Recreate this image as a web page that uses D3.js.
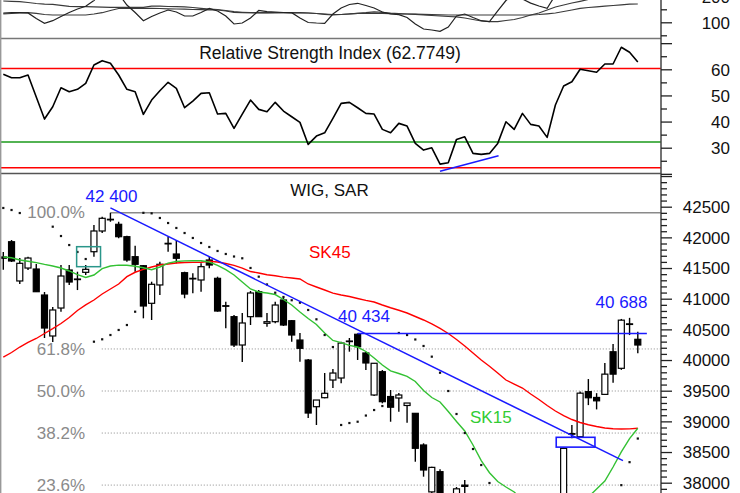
<!DOCTYPE html>
<html><head><meta charset="utf-8">
<script src="https://cdn.jsdelivr.net/npm/d3@7"></script>
<style>body{margin:0;background:#fff}svg{display:block}text{font-family:"Liberation Sans",Arial,sans-serif}</style>
</head><body><svg id="c" width="740" height="493"></svg>
<script>
// ---------- DATA ----------
const opens  = [41680,41929,41289,41500,41484,41060,40392,40848,41468,41321,41430,41766,42104,42295,42213,42011,41685,41538,40925,41224,41903,41729,41424,41332,41305,41631,41332,40886,40707,40245,40707,41114,40599,40625,40979,40641,40326,40000,39239,39386,39674,39707,40310,40420,40115,39430,39810,39405,39381,39259,39131,38615,37850,38180,37600,37650,37940,37500,37100,37050,37100,37250,37500,37380,37600,37420,37380,37150,37600,38790,38750,39485,39390,39440,40135,39865,40590,40338];
const highs  = [41760,41957,41664,41685,41566,41109,40865,41549,41549,41440,41549,42202,42337,42400,42255,42027,41864,41549,41277,41603,42011,41957,41440,41414,41577,41685,41359,40951,40734,40767,41126,41142,40767,40951,41011,40652,40441,40017,39348,39789,39853,40299,40359,40434,40136,39952,39837,39511,39462,39299,39136,38642,38260,38220,37700,37930,38045,37600,37300,37300,37400,37550,37550,37650,37650,37500,37400,37600,38570,38940,39485,39690,39460,39950,40260,40670,40688,40462];
const lows   = [41470,41598,41240,41468,41109,40359,40294,40788,41223,41141,41386,41685,42071,42255,41985,41603,41440,40680,40653,41060,41766,41577,41007,41088,41114,41496,40788,40517,40212,39968,40571,40702,40543,40599,40555,40299,39973,39055,38941,39376,39544,39621,40136,40001,39837,39414,39294,38994,39158,38978,38342,38098,37700,37450,36590,37500,37700,37000,36800,36700,37000,37200,37200,37300,37300,37250,37050,37100,37550,38725,38730,39265,39195,39430,39630,39840,40407,40110];
const closes = [41660,41615,41577,41663,41114,40522,40816,41370,41272,41313,41479,42104,42311,42287,42011,41631,41561,40881,41235,41561,41895,41659,41076,41324,41522,41549,40799,40878,40245,40604,41093,40707,40625,40897,40571,40408,40191,39136,39348,39458,39788,40277,40302,40217,39952,39947,39321,39231,39430,39299,38561,38207,38250,37600,37650,37900,37960,37100,37050,37100,37250,37500,37380,37600,37420,37380,37150,37550,38560,38800,39460,39385,39335,39770,39770,40650,40580,40245];
const sar    = [42479,42446,42397,null,null,null,42174,42022,41875,41762,41647,40299,40338,40408,40490,40571,40788,42400,42392,42316,42234,42153,42071,41990,41908,41843,41778,41729,41688,41659,41501,41359,41232,41098,41028,40975,40935,40816,40664,40408,40212,38941,38973,38994,39095,39185,39250,39316,40441,40408,40335,40229,40055,39793,39495,39120,38810,38549,38288,37995,37780,37720,37700,37690,37680,37670,37660,37650,36590,36700,36850,37050,37250,37450,37680,37960,38335,38720];
const sk15   = [41680,41667,41631,41610,41589,41559,41533,41501,41452,41393,41346,41386,41491,41533,41548,41545,41530,41505,41473,41517,41579,41606,41616,41619,41618,41598,41545,41474,41386,41272,41158,41109,41093,41068,40987,40897,40783,40677,40579,40441,40319,40284,40240,40212,40139,40033,39919,39824,39780,39735,39650,39503,39389,39316,39161,38998,38843,38615,38359,38163,38020,37930,37848,37718,37587,37489,37424,37391,37408,37489,37620,37767,37897,38027,38256,38501,38720,38887];
const sk45   = [40049,40123,40212,40286,40351,40433,40511,40596,40694,40808,40898,40979,41077,41158,41240,41359,41431,41479,41517,41549,41566,41582,41590,41593,41595,41611,41598,41574,41544,41500,41443,41419,41391,41375,41351,41338,41321,41240,41191,41142,41090,41060,41036,41003,40972,40946,40897,40852,40811,40767,40710,40653,40588,40515,40433,40335,40229,40115,40001,39898,39789,39674,39609,39544,39446,39356,39258,39169,39095,39030,38981,38945,38916,38891,38880,38875,38878,38887];
const rsi    = [58.08,56.78,56.78,57.82,49.39,40.96,45.67,52.95,51.42,52.34,54.64,61.65,63.30,62.30,57.82,52.34,51.42,42.76,48.24,51.80,55.02,52.72,45.29,47.85,50.80,51.03,42.87,43.14,37.39,42.87,48.24,44.67,43.75,47.36,44.02,41.84,39.69,31.26,34.44,35.71,41.23,46.97,47.36,45.29,43.14,42.87,37.01,35.71,39.31,38.28,31.65,29.08,29.96,23.72,24.21,33.18,34.18,27.82,27.43,27.82,31.65,39.92,37.01,43.14,38.93,38.28,33.95,46.32,53.60,55.25,60.00,59.43,58.85,62.03,62.03,68.43,66.51,62.7749];
const oscA   = [135.4,136.9,136.9,136.2,114.6,96.2,106.2,122.3,137.7,151.2,161.5,183.8,216.5,231.9,208.8,166.5,137.7,106.2,122.3,135.8,147.3,139.6,124.2,124.2,137.7,153.1,143.5,124.2,93.5,97.3,116.5,145.4,140.8,139.6,137.7,136.9,116.5,99.2,97.3,96.2,131.9,155,168.5,173.1,164.6,155,139.6,131.9,129.2,118.5,93.5,74.2,70.4,65.4,81.9,124.2,131.9,118.5,106.2,102.3,143.5,183.8,208.8,189.6,173.8,162.7,153.8,205,243.5,262.7,281.9,281.9,270.4,270.4,262.7,281.9,281.9,270.4];
const oscB   = [181.9,180.8,179.2,176.2,172.3,169.6,168.8,165.4,161.5,160,160,159.2,158.5,157.7,157.7,157.7,157.7,157.7,161.9,161.9,160.8,160.4,159.6,156.9,153.8,151.2,149.2,145.4,140.8,138.5,136.9,136.9,137.5,137.7,137.3,136.5,136,135.8,133.8,131.9,130,130,131.9,134.6,136.9,140,138.1,135,133.5,131.9,130.4,128.1,126.2,124.2,122.3,120.8,116.5,110.8,105,102.3,102.3,106.9,110.8,118.5,128.1,135.8,147.3,158.8,166.5,174.2,180.8,187.7,193.5,199.2,205,210.8,216.5,220.4];
const oscC   = [131.9,133.8,135.8,136.9,134.6,130,128.1,128.1,128.1,128.1,128.1,131.9,136.9,145.4,153.1,153.8,153.8,153.8,153.8,153.1,151.9,151.2,150.4,149.2,148.5,147.7,147.3,143.5,137.7,136.9,136.9,136.5,136.2,136.5,136.9,137.3,136.9,135.8,133.8,130.8,128.1,130,132.7,134.6,134.6,134.6,133.8,133.1,131.9,131.9,131.2,130.4,129.6,128.8,128.1,128.1,128.1,128.1,128.1,128.1,128.1,128.1,128.1,128.1,128.1,130,132.7,135.8,141.5,147.3,153.8,156.9,159.6,161.9,164.6,167.3,169.6,170.4];

const mainMajorTicks = [38000,38500,39000,39500,40000,40500,41000,41500,42000,42500,43000];
const mainLabelTicks = [38000,38500,39000,39500,40000,40500,41000,41500,42000,42500];
const rsiMajorTicks = [20,30,40,50,60,70];
const rsiLabelTicks = [30,40,50,60];
const topMajorTicks = [100,200];
const topMinorTicks = [50,150];

const fibHigh = 42400, fibLow = 36590;
const fibLevels = [61.8,50.0,38.2,23.6];
const rsiLevels = [{v:60.3,c:"#ff0000"},{v:32.2,c:"#1a9a1a"},{v:22.3,c:"#ff0000"}];
const rsiDivergence = [{i:53,v:21.0},{i:60.1,v:26.9}];
const downTrend = [{i:13,v:42480},{i:75.2,v:38360}];
const resistance = {from:43,to:78.1};
const gapBox = {from:67.1,to:71.8,lo:38580,hi:38740};
const sarBox = {from:8.9,to:11.8,lo:41522,hi:41848};
const peakIdx = [13,43,76];

// ---------- SCALES ----------
const svg = d3.select("#c");
const AX = 661;
const x  = d3.scaleLinear().domain([0,77]).range([3.3,637.8]);
const yM = d3.scaleLinear().domain([38000,42500]).range([482.7,206.7]);
const yR = d3.scaleLinear().domain([30,60]).range([147.7,69.3]);
const yT = d3.scaleLinear().domain([100,150]).range([22.3,9.3]);
const n = closes.length;
const idx = d3.range(n);

const defs = svg.append("defs");
function clip(id,y0,y1){defs.append("clipPath").attr("id",id).append("rect").attr("x",0).attr("y",y0).attr("width",AX).attr("height",y1-y0);}
clip("cT",0,38.5); clip("cR",38.5,173.5); clip("cM",173.5,493);

// ---------- TOP PANEL ----------
const gT = svg.append("g").attr("clip-path","url(#cT)");
[oscC,oscB,oscA].forEach((s,k)=>{
  gT.append("path").datum(s)
    .attr("d",d3.line().x((d,i)=>x(i)).y(d=>yT(d)))
    .attr("fill","none").attr("stroke",k===2?"#222":"#3a3a3a").attr("stroke-width",1.2);
});

// ---------- RSI PANEL ----------
const gR = svg.append("g").attr("clip-path","url(#cR)");
rsiLevels.forEach(l=>{
  gR.append("line").attr("x1",0).attr("x2",AX).attr("y1",yR(l.v)).attr("y2",yR(l.v))
    .attr("stroke",l.c).attr("stroke-width",1.5);
});
gR.append("path").datum(rsi)
  .attr("d",d3.line().x((d,i)=>x(i)).y(d=>yR(d)))
  .attr("fill","none").attr("stroke","#000").attr("stroke-width",1.6).attr("stroke-linejoin","round");
gR.append("path").datum(rsiDivergence)
  .attr("d",d3.line().x(d=>x(d.i)).y(d=>yR(d.v)))
  .attr("stroke","#1a1aff").attr("stroke-width",1.5).attr("fill","none");
svg.append("text").attr("x",330).attr("y",59.3).attr("text-anchor","middle")
  .attr("font-size",17.5).attr("fill","#111")
  .text("Relative Strength Index (" + rsi[n-1].toFixed(4) + ")");

// ---------- MAIN PANEL ----------
const gM = svg.append("g").attr("clip-path","url(#cM)");
// fibonacci
fibLevels.forEach(p=>{
  const v = fibHigh - (1-p/100)*(fibHigh-fibLow);
  gM.append("line").attr("x1",x(11.95)).attr("x2",AX).attr("y1",yM(v)).attr("y2",yM(v))
    .attr("stroke","#8a8a8a").attr("stroke-width",1).attr("stroke-dasharray","1,2");
  gM.append("text").attr("x",85).attr("y",yM(v)).attr("dy","0.36em").attr("text-anchor","end")
    .attr("font-size",17).attr("fill","#8a8a8a").text(p.toFixed(1)+"%");
});
gM.append("line").attr("x1",x(13)).attr("x2",AX).attr("y1",yM(fibHigh)).attr("y2",yM(fibHigh))
  .attr("stroke","#8a8a8a").attr("stroke-width",1.5);
gM.append("text").attr("x",85).attr("y",yM(fibHigh)).attr("dy","0.3em").attr("text-anchor","end")
  .attr("font-size",17).attr("fill","#8a8a8a").text("100.0%");

// candles
const cw = 6;
const cg = gM.append("g");
cg.selectAll("line.w").data(idx).join("line")
  .attr("x1",i=>x(i)).attr("x2",i=>x(i)).attr("y1",i=>yM(highs[i])).attr("y2",i=>yM(lows[i]))
  .attr("stroke","#000").attr("stroke-width",1.4);
cg.selectAll("rect.b").data(idx).join("rect")
  .attr("x",i=>x(i)-cw/2).attr("width",cw)
  .attr("y",i=>yM(Math.max(opens[i],closes[i])))
  .attr("height",i=>Math.max(0.6,Math.abs(yM(opens[i])-yM(closes[i]))))
  .attr("fill",i=>closes[i]>=opens[i]?"#fff":"#000")
  .attr("stroke","#000").attr("stroke-width",1.2);

// moving averages
gM.append("path").datum(sk45).attr("d",d3.line().x((d,i)=>x(i)).y(d=>yM(d)))
  .attr("fill","none").attr("stroke","#ff0000").attr("stroke-width",1.4);
gM.append("path").datum(sk15).attr("d",d3.line().x((d,i)=>x(i)).y(d=>yM(d)))
  .attr("fill","none").attr("stroke","#33c133").attr("stroke-width",1.4);

// SAR
gM.selectAll("rect.sar").data(idx.filter(i=>sar[i]!==null)).join("rect")
  .attr("x",i=>x(i)-1.1).attr("y",i=>yM(sar[i])-1.1).attr("width",2.2).attr("height",2.2).attr("fill","#111");

// trend lines
gM.append("path").datum(downTrend).attr("d",d3.line().x(d=>x(d.i)).y(d=>yM(d.v)))
  .attr("stroke","#1a1aff").attr("stroke-width",1.5).attr("fill","none");
gM.append("line").attr("x1",x(resistance.from)).attr("x2",x(resistance.to))
  .attr("y1",yM(highs[resistance.from])).attr("y2",yM(highs[resistance.from]))
  .attr("stroke","#1a1aff").attr("stroke-width",1.5);
gM.append("rect").attr("x",x(gapBox.from)).attr("width",x(gapBox.to)-x(gapBox.from))
  .attr("y",yM(gapBox.hi)).attr("height",yM(gapBox.lo)-yM(gapBox.hi))
  .attr("fill","none").attr("stroke","#1a1aff").attr("stroke-width",1.6);
gM.append("rect").attr("x",x(sarBox.from)).attr("width",x(sarBox.to)-x(sarBox.from))
  .attr("y",yM(sarBox.hi)).attr("height",yM(sarBox.lo)-yM(sarBox.hi))
  .attr("fill","none").attr("stroke","#2a968a").attr("stroke-width",1.5);

// labels
const fmt = v => d3.format(",")(v).replace(/,/g," ");
const peakPos = [[111.5,201.7],[364,321.7],[621.5,308]];
peakIdx.forEach((pi,k)=>{
  gM.append("text").attr("x",peakPos[k][0]).attr("y",peakPos[k][1]).attr("text-anchor","middle")
    .attr("font-size",17).attr("fill","#1a1aff").text(fmt(highs[pi]));
});
gM.append("text").attr("x",309).attr("y",258).attr("font-size",17).attr("fill","#ff0000").text("SK45");
gM.append("text").attr("x",470).attr("y",423).attr("font-size",17).attr("fill","#33cc33").text("SK15");
gM.append("text").attr("x",329.5).attr("y",195.7).attr("text-anchor","middle")
  .attr("font-size",17).attr("fill","#111").text("WIG, SAR");

// ---------- FRAME ----------
svg.append("line").attr("x1",0).attr("x2",AX).attr("y1",38.5).attr("y2",38.5).attr("stroke","#777").attr("stroke-width",1.5);
svg.append("line").attr("x1",0).attr("x2",AX).attr("y1",173.5).attr("y2",173.5).attr("stroke","#555").attr("stroke-width",1.5);
svg.append("line").attr("x1",0.7).attr("x2",0.7).attr("y1",0).attr("y2",493).attr("stroke","#999").attr("stroke-width",1.4);
svg.append("line").attr("x1",AX).attr("x2",AX).attr("y1",0).attr("y2",493).attr("stroke","#444").attr("stroke-width",1.5);

// ---------- AXES ----------
function styleAxis(g){
  g.select(".domain").remove();
  g.attr("color","#222");
  g.selectAll("line").attr("stroke-width",1.3);
  g.selectAll("text").attr("x",730-AX).attr("text-anchor","end").attr("dy","0.35em")
    .attr("font-size",17).attr("font-family","Liberation Sans, Arial, sans-serif").attr("fill","#111");
}
// main
const mainMinor = d3.range(37900,43001,100).filter(v=>v%500!==0);
svg.append("g").attr("transform",`translate(${AX},0)`)
  .call(d3.axisRight(yM).tickValues(mainMinor).tickSize(6).tickFormat(""))
  .call(styleAxis);
svg.append("g").attr("transform",`translate(${AX},0)`)
  .call(d3.axisRight(yM).tickValues(mainMajorTicks).tickSize(11)
    .tickFormat(d=>mainLabelTicks.includes(d)?String(d):""))
  .call(styleAxis);
// rsi
svg.append("g").attr("transform",`translate(${AX},0)`)
  .call(d3.axisRight(yR).tickValues([25,35,45,55,65]).tickSize(6).tickFormat(""))
  .call(styleAxis);
svg.append("g").attr("transform",`translate(${AX},0)`)
  .call(d3.axisRight(yR).tickValues(rsiMajorTicks).tickSize(11)
    .tickFormat(d=>rsiLabelTicks.includes(d)?String(d):""))
  .call(styleAxis);
// top
svg.append("g").attr("transform",`translate(${AX},0)`)
  .call(d3.axisRight(yT).tickValues(topMinorTicks).tickSize(6).tickFormat(""))
  .call(styleAxis);
svg.append("g").attr("transform",`translate(${AX},0)`)
  .call(d3.axisRight(yT).tickValues(topMajorTicks).tickSize(11).tickFormat(d=>String(d)))
  .call(styleAxis);
</script></body></html>
